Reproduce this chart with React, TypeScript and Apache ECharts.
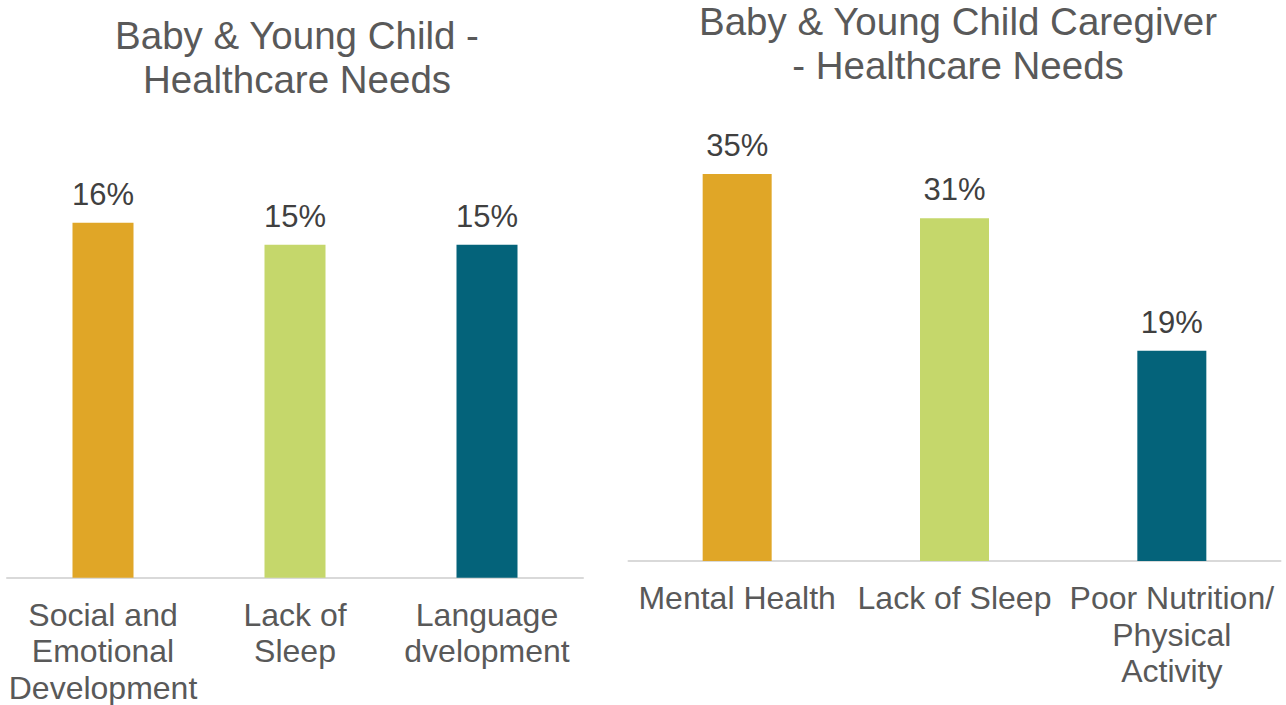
import React, { useEffect, useRef } from "react";
import * as echarts from "echarts";

const leftTitle = "Baby & Young Child -\nHealthcare Needs";
const rightTitle = "Baby & Young Child Caregiver\n- Healthcare Needs";
const leftCategories = ["Social and\nEmotional\nDevelopment", "Lack of\nSleep", "Language\ndvelopment"];
const leftValues = [16, 15, 15];
const rightCategories = ["Mental Health", "Lack of Sleep", "Poor Nutrition/\nPhysical\nActivity"];
const rightValues = [35, 31, 19];
const barColors = ["#E0A627", "#C5D76B", "#04637A"];

const FONT = "'Liberation Sans', Arial, sans-serif";

function makeData(values: number[]) {
  return values.map((v, i) => ({ value: v, itemStyle: { color: barColors[i] } }));
}

export default function App() {
  const ref = useRef<HTMLDivElement>(null);
  useEffect(() => {
    if (!ref.current) return;
    const chart = echarts.init(ref.current, undefined, { renderer: "svg" });
    const axisLabel = {
      interval: 0,
      margin: 19,
      fontSize: 32,
      lineHeight: 36.5,
      color: "#595959",
      fontFamily: FONT,
      align: "center" as const,
    };
    const axisLine = { show: true, lineStyle: { color: "#D9D9D9", width: 2 } };
    const label = {
      show: true,
      position: "top" as const,
      distance: 13,
      formatter: "{c}%",
      fontSize: 31,
      lineHeight: 31,
      color: "#404040",
      fontFamily: FONT,
    };
    const titleStyle = { fontSize: 38.5, lineHeight: 44, color: "#595959", fontWeight: "normal" as const, fontFamily: FONT };
    chart.setOption({
      animation: false,
      backgroundColor: "#FFFFFF",
      title: [
        { text: leftTitle, left: 292, top: 8, textAlign: "center", textStyle: titleStyle },
        { text: rightTitle, left: 953, top: -5.5, textAlign: "center", textStyle: titleStyle },
      ],
      grid: [
        { left: 7, width: 576, top: 133.9, height: 443.8, outerBoundsMode: "none", containLabel: false },
        { left: 628.5, width: 652, top: 118.6, height: 442.4, outerBoundsMode: "none", containLabel: false },
      ],
      xAxis: [
        {
          type: "category",
          gridIndex: 0,
          data: leftCategories,
          axisLine,
          axisTick: { show: false },
          axisLabel,
        },
        {
          type: "category",
          gridIndex: 1,
          data: rightCategories,
          axisLine,
          axisTick: { show: false },
          axisLabel,
        },
      ],
      yAxis: [
        { type: "value", gridIndex: 0, min: 0, max: 20, show: false, splitLine: { show: false } },
        { type: "value", gridIndex: 1, min: 0, max: 40, show: false, splitLine: { show: false } },
      ],
      series: [
        {
          type: "bar",
          xAxisIndex: 0,
          yAxisIndex: 0,
          barWidth: 61,
          data: makeData(leftValues),
          label,
        },
        {
          type: "bar",
          xAxisIndex: 1,
          yAxisIndex: 1,
          barWidth: 69,
          data: makeData(rightValues),
          label,
        },
      ],
    });
    return () => chart.dispose();
  }, []);
  return (
    <div
      ref={ref}
      style={{ position: "absolute", left: 0, top: 0, width: 1286, height: 705, background: "#FFFFFF" }}
    />
  );
}
